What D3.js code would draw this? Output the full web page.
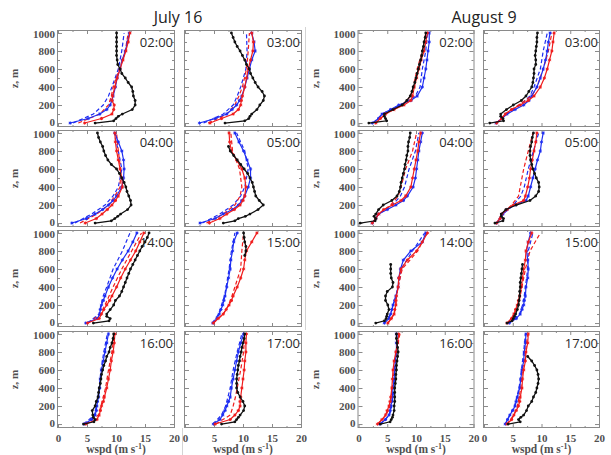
<!DOCTYPE html>
<html>
<head>
<meta charset="utf-8">
<script src="https://cdn.jsdelivr.net/npm/d3@7"></script>
<style>
  body { margin: 0; background: #fff; }
  svg text { font-family: "Liberation Serif", "DejaVu Serif", serif; }
</style>
</head>
<body>
<svg id="chart" width="611" height="455"></svg>
<script>
// ---- data ---------------------------------------------------------------
const dates = ["July 16", "August 9"];
const hours = ["02:00", "03:00", "04:00", "05:00", "14:00", "15:00", "16:00", "17:00"];
const xTicks = [0, 5, 10, 15, 20];
const zTicks = [0, 200, 400, 600, 800, 1000];

// heights (m) of the observed and modelled profiles
const zObs = [0, 25, 50, 75, 100, 150, 200, 250, 300, 350, 400, 450, 500, 550, 600, 650, 700, 750, 800, 850, 900, 950, 1000];
const zRun = [0, 50, 100, 150, 200, 250, 300, 400, 500, 600, 700, 800, 900, 1000];
const zDash = [0, 100, 200, 300, 400, 600, 800, 1000];

// wind speed (m/s); one row per panel: July 16 02,03,04,05,14,15,16,17 then August 9 same hours
const obsWspd = [
  [6.4, 9.6, 10.0, 10.4, 11.1, 12.8, 13.3, 13.3, 13.0, 12.9, 12.7, 12.1, 11.6, 11.0, 10.7, 10.3, 10.2, 10.1, 10.1, 10.1, 10.1, 10.1, 10.1],
  [6.9, 10.3, 11.0, 11.2, 11.5, 12.4, 12.9, 13.5, 13.7, 13.3, 12.6, 12.1, 11.7, 11.3, 11.1, 10.6, 10.3, 9.9, 9.5, 9.0, 8.6, 8.3, 8.0],
  [6.4, 9.2, 9.8, 10.3, 10.8, 12.0, 12.6, 12.5, 12.2, 11.9, 11.7, 11.4, 11.0, 10.6, 10.1, 9.2, 8.6, 8.2, 7.9, 7.7, 7.3, 7.0, 6.8],
  [6.6, 8.6, 9.2, 10.4, 11.2, 12.6, 13.5, 12.8, 12.2, 12.0, 11.8, 11.6, 11.2, 10.8, 10.2, 9.6, 9.0, 8.4, 7.8, 7.5, null, null, null],
  [6.1, 8.8, 9.0, 8.4, 8.4, 9.0, 9.6, 9.9, 10.6, 11.0, 11.3, 11.6, 11.9, 12.2, 12.5, 12.9, 13.3, 13.7, 14.1, 14.5, 15.0, 15.4, 15.7],
  [null, null, null, null, null, null, null, null, null, null, null, null, null, null, null, null, null, 10.3, 10.5, 10.5, 10.3, 10.2, 10.1],
  [4.4, 6.2, 6.4, 6.1, 6.0, 5.9, 6.4, 6.6, 6.9, 7.0, 7.1, 7.3, 7.4, 7.5, 7.7, 7.9, 8.2, 8.4, 8.8, 9.0, 9.3, 9.5, 9.6],
  [6.3, 8.6, 8.9, 9.2, 9.5, 10.1, 10.3, 10.0, 9.5, 9.1, 8.9, 8.9, 8.9, 9.0, 9.1, 9.2, 9.4, 9.5, 9.7, 9.8, 10.0, 10.2, 10.3],
  [1.8, 4.9, 4.7, 4.5, 4.5, 6.0, 7.6, 8.4, 9.0, 9.3, 9.5, 9.8, 10.0, 10.2, 10.4, 10.6, 10.8, 11.0, 11.1, 11.3, 11.4, 11.6, 11.7],
  [1.0, 3.4, 3.3, 2.9, 2.9, 3.9, 5.1, 6.5, 7.3, 7.8, 8.3, 8.5, 8.6, 8.7, 8.7, 9.0, 9.0, 8.9, 9.0, 9.1, 9.2, 9.2, 9.3],
  [0.3, 2.9, 3.0, 2.7, 3.0, 3.5, 4.3, 5.8, 6.7, 7.1, 7.3, 7.4, 7.6, 7.8, 8.0, 8.1, 8.3, 8.4, 8.6, 8.6, 8.7, 8.9, 9.0],
  [1.9, 3.3, 3.4, 3.0, 3.0, 3.8, 5.6, 8.0, 9.0, 9.5, 9.6, 9.5, 9.1, 8.8, 8.5, 8.3, 8.1, 8.0, 8.0, 8.1, 8.3, 8.4, 8.6],
  [3.0, 4.5, 4.8, 4.9, 5.0, 5.3, 5.1, 4.7, 4.7, 5.0, 5.9, 6.0, 5.7, 5.6, 5.6, 5.6, null, null, null, null, null, null, null],
  [4.0, 4.9, 5.1, 5.3, 5.5, 5.8, 6.0, 6.1, 6.2, 6.2, 6.3, 6.3, 6.4, 6.5, 6.6, 6.7, null, null, null, null, null, null, null],
  [3.8, 5.5, 5.7, 5.9, 6.0, 6.2, 6.2, 6.3, 6.3, 6.3, 6.3, 6.4, 6.5, 6.5, 6.6, 6.6, 6.7, 6.8, 6.9, 6.8, 6.7, 6.6, 6.6],
  [4.2, 6.3, 6.0, 6.4, 6.9, 7.4, 7.7, 8.3, 8.6, 9.0, 9.2, 9.4, 9.5, 9.4, 9.2, 8.8, 8.3, 7.6, null, null, null, null, null]
];

const redRunWspd = [
  [4.6, 7.5, 9.3, 9.6, 9.7, 9.3, 9.4, 9.8, 10.2, 10.7, 11.2, 11.7, 12.1, 12.4],
  [4.3, 6.3, 8.3, 9.2, 9.6, 9.7, 9.9, 10.3, 10.6, 10.9, 11.3, 11.7, 11.8, 11.5],
  [4.7, 6.6, 7.6, 8.5, 9.3, 9.9, 10.4, 11.1, 11.0, 10.7, 10.4, 10.1, 9.9, 9.8],
  [4.2, 6.0, 7.2, 8.5, 9.5, 10.0, 10.3, 10.5, 10.3, 9.8, 8.9, 8.0, 7.7, 7.6],
  [5.1, 7.1, 7.5, 7.9, 8.4, 8.9, 9.3, 10.1, 10.8, 11.6, 12.5, 13.4, 14.1, 14.8],
  [4.9, 5.7, 6.6, 7.1, 7.6, 8.0, 8.3, 9.0, 9.6, 10.1, 10.3, 10.6, 11.5, 12.4],
  [4.8, 6.7, 7.1, 7.3, 7.5, 7.8, 8.0, 8.4, 8.7, 9.0, 9.2, 9.5, 9.7, 9.8],
  [5.2, 7.8, 8.6, 9.2, 9.5, 9.5, 9.6, 9.8, 10.0, 10.2, 10.3, 10.5, 10.5, 10.6],
  [3.0, 3.8, 4.7, 6.2, 7.9, 9.1, 9.4, 9.7, 10.1, 10.5, 10.9, 11.4, 11.7, 12.0],
  [2.2, 3.1, 3.7, 4.8, 6.3, 7.7, 8.7, 9.8, 10.5, 11.0, 11.4, 11.8, 12.0, 12.2],
  [2.4, 3.0, 3.5, 4.4, 5.9, 7.4, 8.2, 9.1, 9.4, 9.7, 10.0, 10.3, 10.5, 10.8],
  [2.2, 2.8, 3.1, 4.0, 5.1, 6.9, 7.2, 7.6, 7.9, 8.1, 8.4, 8.7, 9.0, 9.2],
  [5.1, 5.7, 6.2, 6.3, 6.5, 6.5, 6.6, 6.9, 7.0, 7.4, 8.5, 10.1, 11.1, 12.0],
  [4.0, 4.8, 5.2, 5.5, 5.8, 6.0, 6.2, 6.5, 6.7, 6.9, 7.2, 7.3, 7.7, 8.3],
  [3.3, 4.1, 4.7, 5.0, 5.3, 5.5, 5.6, 5.8, 5.9, 6.0, 6.2, 6.5, 6.8, 7.0],
  [4.0, 4.8, 5.2, 5.6, 6.0, 6.2, 6.3, 6.6, 6.7, 6.9, 7.2, 7.3, 7.6, 7.7]
];

const blueRunWspd = [
  [2.1, 5.2, 7.2, 8.4, 9.0, 9.3, 9.5, 9.9, 10.2, 10.7, 11.1, 11.6, 12.0, 12.3],
  [2.5, 5.2, 7.2, 8.1, 8.9, 9.4, 9.8, 10.3, 10.7, 11.1, 11.5, 12.1, 11.9, 11.5],
  [2.4, 4.9, 6.4, 7.7, 8.7, 9.5, 10.1, 11.0, 11.3, 11.4, 11.3, 11.0, 10.4, 9.8],
  [2.6, 5.2, 6.6, 8.2, 9.2, 9.8, 10.3, 10.9, 11.3, 11.3, 10.7, 10.1, 9.3, 8.6],
  [4.8, 6.8, 7.2, 7.3, 7.5, 7.8, 8.1, 8.7, 9.4, 10.2, 11.1, 12.1, 12.9, 13.6],
  [4.8, 5.5, 5.9, 6.2, 6.5, 6.7, 6.9, 7.2, 7.5, 7.8, 7.9, 8.2, 8.4, 9.0],
  [4.5, 5.8, 6.4, 6.6, 6.7, 6.8, 7.0, 7.2, 7.3, 7.5, 7.8, 8.1, 8.4, 8.7],
  [4.9, 6.0, 6.5, 6.9, 7.2, 7.5, 7.8, 8.0, 8.3, 8.6, 8.9, 9.2, 9.6, 10.1],
  [2.4, 3.5, 4.1, 5.6, 7.0, 9.1, 10.2, 11.1, 11.4, 11.7, 11.9, 12.1, 12.3, 12.3],
  [2.1, 3.1, 4.0, 5.4, 6.9, 7.8, 8.3, 9.2, 9.8, 10.3, 10.7, 11.0, 11.2, 11.5],
  [2.4, 3.0, 3.5, 5.0, 6.5, 7.8, 8.5, 9.5, 9.9, 10.1, 10.3, 10.5, 10.8, 11.1],
  [2.2, 2.8, 3.3, 4.0, 5.4, 7.3, 7.7, 8.1, 8.5, 8.9, 9.3, 9.8, 10.0, 10.3],
  [4.5, 5.3, 5.6, 5.8, 6.0, 6.3, 6.5, 6.9, 7.0, 7.3, 7.8, 9.1, 11.1, 11.7],
  [4.4, 5.6, 6.3, 6.6, 6.9, 7.0, 7.2, 7.3, 7.6, 7.7, 7.6, 7.4, 7.7, 8.1],
  [3.7, 4.7, 5.3, 5.5, 5.6, 5.8, 5.9, 6.0, 6.2, 6.3, 6.4, 6.6, 6.6, 6.6],
  [3.7, 4.1, 4.5, 5.0, 5.4, 5.6, 5.8, 6.2, 6.4, 6.6, 6.9, 7.0, 7.2, 7.3]
];

const redDashWspd = [
  [3.5, 7.2, 8.7, 9.2, 9.5, 10.6, 11.6, 12.1],
  [4.0, 7.2, 8.6, 9.3, 9.9, 10.6, 10.9, 11.1],
  [3.8, 6.7, 8.7, 9.8, 10.7, 10.8, 10.4, 10.1],
  [3.7, 6.6, 8.6, 9.5, 9.8, 9.4, 8.2, 7.9],
  [5.2, 7.4, 8.1, 8.8, 9.5, 11.0, 12.7, 14.4],
  [4.9, 6.6, 7.5, 8.1, 8.6, 9.6, 9.8, 10.1],
  [4.8, 7.0, 7.4, 7.8, 8.2, 8.7, 9.3, 9.7],
  [5.3, 7.8, 8.3, 8.7, 9.0, 9.6, 10.1, 10.3],
  [3.0, 4.7, 7.6, 9.1, 9.5, 10.2, 11.1, 11.7],
  [2.2, 3.7, 6.0, 8.3, 9.2, 10.3, 11.2, 11.8],
  [2.4, 3.5, 5.6, 6.9, 7.4, 8.2, 9.4, 10.1],
  [2.2, 3.1, 4.8, 6.0, 6.3, 6.9, 7.7, 8.5],
  [5.1, 6.2, 6.5, 6.6, 6.9, 7.6, 10.3, 11.9],
  [4.1, 5.3, 6.0, 6.3, 6.6, 7.2, 8.0, 9.8],
  [3.4, 4.8, 5.5, 5.7, 5.9, 6.2, 6.6, 7.2],
  [4.0, 5.2, 5.8, 6.1, 6.4, 6.7, 7.2, 7.6]
];

const blueDashWspd = [
  [2.6, 6.1, 7.8, 8.7, 9.3, 10.4, 11.0, 11.4],
  [3.2, 6.6, 8.3, 9.0, 9.6, 10.5, 10.7, 10.6],
  [2.9, 5.8, 8.1, 9.5, 10.4, 11.0, 10.4, 9.7],
  [3.0, 6.0, 8.3, 9.6, 10.3, 10.9, 10.3, 8.9],
  [5.1, 7.1, 7.4, 7.8, 8.4, 9.5, 11.1, 12.4],
  [4.7, 5.8, 6.3, 6.8, 7.1, 7.6, 8.0, 8.6],
  [4.4, 6.3, 6.6, 6.9, 7.1, 7.4, 7.9, 8.5],
  [4.8, 6.3, 7.0, 7.4, 7.8, 8.3, 9.0, 9.8],
  [2.6, 4.1, 7.3, 9.9, 10.7, 11.1, 11.7, 12.0],
  [2.2, 4.0, 6.3, 8.0, 8.7, 9.8, 10.3, 11.0],
  [2.4, 3.5, 5.9, 7.3, 8.0, 8.8, 9.9, 10.5],
  [2.2, 3.3, 5.1, 6.4, 7.0, 7.7, 8.6, 9.5],
  [4.5, 5.6, 6.0, 6.5, 6.9, 7.4, 9.4, 11.5],
  [4.4, 6.2, 6.7, 7.0, 7.2, 7.6, 7.7, 8.5],
  [3.8, 5.4, 5.8, 6.0, 6.2, 6.3, 6.6, 6.9],
  [3.7, 4.5, 5.3, 5.7, 6.1, 6.5, 6.9, 7.2]
];

// ---- layout -------------------------------------------------------------
const svg = d3.select("#chart");
const RED = "#f01c1c", BLUE = "#1d2df2", AXIS = "#8a8a8a", LABEL = "#505050";

const panelX = [58, 185, 358.5, 484];   // left edge (x = 0) of each panel column
const panelW = [116, 116, 115, 115];
const panelY = [30, 130, 230, 331];     // top edge of each panel row
const panelH = 97;

// faint seams between the composed figure pieces
svg.append("line").attr("x1", 305.5).attr("x2", 305.5).attr("y1", 27).attr("y2", 330)
  .attr("stroke", "#d4d4d4").attr("stroke-width", 1);
svg.append("line").attr("x1", 182.5).attr("x2", 182.5).attr("y1", 428).attr("y2", 455)
  .attr("stroke", "#d4d4d4").attr("stroke-width", 1);

// block titles
dates.forEach((d, b) => {
  svg.append("text")
    .attr("x", b === 0 ? 178 : 484).attr("y", 23)
    .attr("text-anchor", "middle")
    .style("font-family", "'Open Sans', 'Liberation Sans', sans-serif")
    .style("font-size", "16px").attr("fill", "#222")
    .text(d);
});

const y = d3.scaleLinear().domain([-44, 1033]).range([panelH, 0]);

function styleAxis(g) {
  g.select(".domain").remove();
  g.selectAll(".tick line").attr("stroke", AXIS).attr("stroke-width", 1);
  g.selectAll(".tick text")
    .attr("fill", LABEL)
    .style("font-family", "'Liberation Serif', 'DejaVu Serif', serif")
    .style("font-weight", "bold")
    .style("font-size", "11px");
}

function drawProfile(g, x, zs, vals, color, opts) {
  const pts = zs.map((z, i) => ({ z, v: vals[i] }));
  const line = d3.line()
    .defined(d => d.v !== null)
    .x(d => x(d.v)).y(d => y(d.z));
  g.append("path").datum(pts)
    .attr("fill", "none").attr("stroke", color)
    .attr("stroke-width", opts.width || 1.2)
    .attr("stroke-dasharray", opts.dash || null)
    .attr("d", line);
  const defined = pts.filter(d => d.v !== null);
  if (opts.marker === "dot") {
    g.selectAll(null).data(defined).enter().append("circle")
      .attr("cx", d => x(d.v)).attr("cy", d => y(d.z)).attr("r", 1.4)
      .attr("fill", color);
  } else if (opts.marker === "star") {
    const s = 1.6;
    g.selectAll(null).data(defined).enter().append("path")
      .attr("d", d => {
        const cx = x(d.v), cy = y(d.z);
        return `M${cx - s},${cy}H${cx + s}M${cx},${cy - s}V${cy + s}` +
               `M${cx - s * 0.7},${cy - s * 0.7}L${cx + s * 0.7},${cy + s * 0.7}` +
               `M${cx - s * 0.7},${cy + s * 0.7}L${cx + s * 0.7},${cy - s * 0.7}`;
      })
      .attr("stroke", color).attr("stroke-width", 1).attr("fill", "none");
  }
}

for (let b = 0; b < 2; b++) {
  for (let r = 0; r < 4; r++) {
    for (let c = 0; c < 2; c++) {
      const col = b * 2 + c;
      const p = b * 8 + r * 2 + c;
      const x = d3.scaleLinear().domain([0, 20]).range([0, panelW[col]]);
      const g = svg.append("g").attr("transform", `translate(${panelX[col]},${panelY[r]})`);

      // frame
      g.append("rect").attr("x", -0.5).attr("y", 0.5)
        .attr("width", panelW[col] + 1).attr("height", panelH - 1)
        .attr("fill", "none").attr("stroke", AXIS).attr("stroke-width", 1);

      // minor ticks on all four sides
      const xMinor = [2.5, 7.5, 12.5, 17.5];
      const zMinor = [100, 300, 500, 700, 900];
      g.append("g").attr("transform", `translate(0,${panelH})`)
        .call(d3.axisBottom(x).tickValues(xMinor).tickSize(-2).tickFormat("")).call(styleAxis);
      g.append("g")
        .call(d3.axisTop(x).tickValues(xMinor).tickSize(-2).tickFormat("")).call(styleAxis);
      g.append("g")
        .call(d3.axisLeft(y).tickValues(zMinor).tickSize(-2).tickFormat("")).call(styleAxis);
      g.append("g").attr("transform", `translate(${panelW[col]},0)`)
        .call(d3.axisRight(y).tickValues(zMinor).tickSize(-2).tickFormat("")).call(styleAxis);

      // major ticks; labels only on outer panels
      g.append("g").attr("transform", `translate(0,${panelH})`)
        .call(d3.axisBottom(x).tickValues(xTicks).tickSize(-4).tickPadding(6)
          .tickFormat(r === 3 ? d3.format("d") : ""))
        .call(styleAxis);
      g.append("g")
        .call(d3.axisTop(x).tickValues(xTicks).tickSize(-4).tickFormat("")).call(styleAxis);
      const yAx = g.append("g")
        .call(d3.axisLeft(y).tickValues(zTicks).tickSize(-4).tickPadding(3)
          .tickFormat(c === 0 ? d3.format("d") : ""))
        .call(styleAxis);
      // keep the stacked "0" / "1000" labels of neighbouring rows apart
      yAx.selectAll(".tick text")
        .attr("dy", d => d === 0 ? "0.22em" : d === 1000 ? "0.42em" : "0.32em");
      g.append("g").attr("transform", `translate(${panelW[col]},0)`)
        .call(d3.axisRight(y).tickValues(zTicks).tickSize(-4).tickFormat("")).call(styleAxis);

      // profiles
      drawProfile(g, x, zDash, blueDashWspd[p], BLUE, { dash: "4,2.5" });
      drawProfile(g, x, zDash, redDashWspd[p], RED, { dash: "4,2.5" });
      drawProfile(g, x, zRun, blueRunWspd[p], BLUE, { marker: "star" });
      drawProfile(g, x, zRun, redRunWspd[p], RED, { marker: "star" });
      drawProfile(g, x, zObs, obsWspd[p], "#111", { marker: "dot", width: 1.3 });

      // hour label
      g.append("text")
        .attr("x", panelW[col] - 1).attr("y", 17)
        .attr("text-anchor", "end")
        .style("font-family", "'Open Sans', 'Liberation Sans', sans-serif")
        .style("font-size", "13px").attr("fill", "#2a2a2a")
        .text(hours[r * 2 + c]);

      // axis titles
      if (c === 0) {
        g.append("text")
          .attr("transform", `translate(-40,${panelH / 2}) rotate(-90)`)
          .attr("text-anchor", "middle")
          .style("font-weight", "bold").style("font-size", "11px")
          .attr("fill", LABEL)
          .text("z, m");
      }
      if (r === 3) {
        const t = g.append("text")
          .attr("x", panelW[col] / 2).attr("y", panelH + 25)
          .attr("text-anchor", "middle")
          .style("font-weight", "bold").style("font-size", "11.5px")
          .attr("fill", LABEL);
        t.append("tspan").text("wspd (m s");
        t.append("tspan").attr("dy", -4).style("font-size", "8px").text("-1");
        t.append("tspan").attr("dy", 4).text(")");
      }
    }
  }
}
</script>
</body>
</html>
